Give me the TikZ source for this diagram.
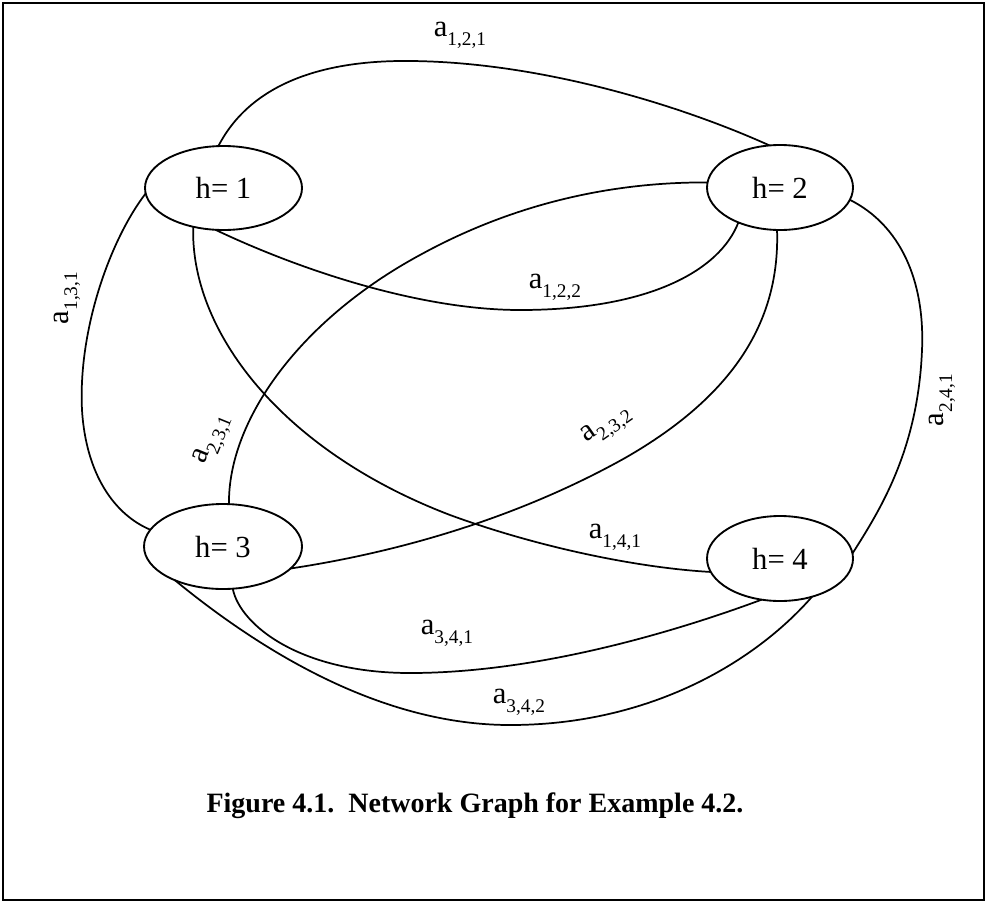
\documentclass[tikz,border=0pt]{standalone}
\usepackage{fontspec}
\setmainfont{Liberation Serif}
\usetikzlibrary{shapes.geometric}
\newcommand{\asub}[1]{a\raisebox{-0.28em}{\fontsize{14.5}{15}\selectfont #1}}
\tikzset{
  hnode/.style={draw, shape=ellipse, line width=1.4pt, inner sep=0pt, outer sep=0pt, font=\fontsize{23}{26}\selectfont},
  arc/.style={line width=1.3pt},
  lab/.style={inner sep=0pt, font=\fontsize{23}{26}\selectfont},
}
\begin{document}
\begin{tikzpicture}[x=0.75pt,y=-0.75pt]
\useasboundingbox (0,0) rectangle (987,903);
\draw[line width=1.5pt] (2.5,2.5) rectangle (984,899.5);

\node[hnode, minimum width=117.75pt, minimum height=63pt] (h1) at (223.5,188) {h= 1};
\node[hnode, minimum width=109.5pt, minimum height=63.75pt] (h2) at (780,187.5) {h= 2};
\node[hnode, minimum width=118.5pt, minimum height=63.75pt] (h3) at (223,546.5) {h= 3};
\node[hnode, minimum width=109.5pt, minimum height=63.75pt] (h4) at (780,558.5) {h= 4};

% a121
\draw[arc] (h1.97) .. controls (250,85) and (320,60) .. (410,61) .. controls (540,62) and (680,105) .. (h2.104);
% a122
\draw[arc] (h1.259) .. controls (300,270) and (420,310) .. (520,310) .. controls (650,310) and (720,270) .. (h2.220);
% a131
\draw[arc] (h1.184) .. controls (110,240) and (78,330) .. (82,410) .. controls (86,475) and (115,515) .. (h3.167);
% a141
\draw[arc] (h1.232) .. controls (190,330) and (280,450) .. (450,515) .. controls (540,548) and (640,568) .. (h4.191);
% a231
\draw[arc] (h3.82) .. controls (228,420) and (300,320) .. (420,255) .. controls (520,200) and (620,182) .. (h2.176);
% a232
\draw[arc] (h2.266) .. controls (780,320) and (735,395) .. (625,458) .. controls (505,525) and (380,555) .. (h3.342);
% a241
\draw[arc] (h2.350) .. controls (900,225) and (925,280) .. (922,350) .. controls (918,450) and (880,510) .. (h4.4);
% a341
\draw[arc] (h3.283) .. controls (240,625) and (300,673) .. (410,673) .. controls (540,673) and (680,630) .. (h4.246);
% a342
\draw[arc] (h3.215) .. controls (260,650) and (380,725) .. (510,725) .. controls (650,725) and (755,662) .. (h4.310);

\node[lab] (l121) at (460,35) {\asub{1,2,1}};
\node[lab] (l122) at (555,287) {\asub{1,2,2}};
\node[lab, rotate=90] (l131) at (67,298) {\asub{1,3,1}};
\node[lab] (l141) at (615,537) {\asub{1,4,1}};
\node[lab, rotate=68] (l231) at (213,440) {\asub{2,3,1}};
\node[lab, rotate=35] (l232) at (607,426) {\asub{2,3,2}};
\node[lab, rotate=90] (l241) at (942,400) {\asub{2,4,1}};
\node[lab] (l341) at (447,633) {\asub{3,4,1}};
\node[lab] (l342) at (519,702) {\asub{3,4,2}};

\node[inner sep=0pt, font=\fontsize{21}{24}\selectfont\bfseries] (cap) at (475,806) {Figure 4.1.\ \ Network Graph for Example 4.2.};
\end{tikzpicture}
\end{document}
